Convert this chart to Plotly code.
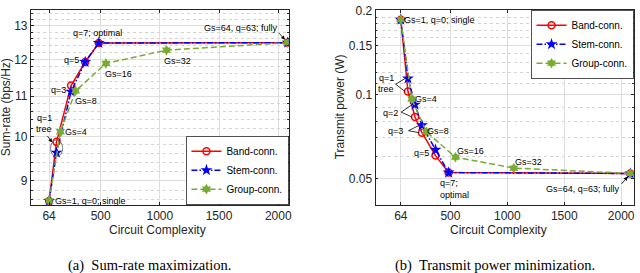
import math
import plotly.graph_objects as go

W, H = 640, 273
SANS = "Liberation Sans"
SERIF = "Liberation Serif"

# ---------------- data ----------------
# (a) sum-rate maximization
cc_bs_a = [64, 127, 250, 369, 484, 2080]          # band / stem complexity, q = 0,1,3,5,7,63
rate_band = [8.58, 9.87, 11.28, 11.93, 12.48, 12.49]
rate_stem = [8.58, 9.62, 11.12, 11.93, 12.48, 12.49]
cc_group = [64, 160, 288, 544, 1056, 2080]       # Gs = 1,4,8,16,32,64
rate_group = [8.58, 10.11, 11.14, 11.89, 12.27, 12.49]

# (b) transmit power minimization
cc_bs_b = [64, 127, 189, 250, 369, 484, 2080]     # q = 0,1,2,3,5,7,63
pow_band = [0.186, 0.1026, 0.0831, 0.0730, 0.0604, 0.0525, 0.0521]
pow_stem = [0.186, 0.1143, 0.0921, 0.0776, 0.0634, 0.0525, 0.0521]
pow_group = [0.186, 0.0964, 0.0736, 0.0596, 0.0545, 0.0521]

x_ticks = [64, 500, 1000, 1500, 2000]
rate_ticks = [9, 10, 11, 12, 13]
pow_ticks = [0.05, 0.1, 0.15, 0.2]
pow_tick_text = ["0.05", "0.1", "0.15", "0.2"]

RED, BLUE, GREEN = "#FF0000", "#0000FF", "#77AC30"


def series(x, y, kind, xa, ya, leg, show):
    if kind == "band":
        line = dict(color=RED, width=1.5)
        marker = dict(symbol="circle-open", size=7, color=RED, line=dict(width=1.5, color=RED))
        name = "Band-conn."
    elif kind == "stem":
        line = dict(color=BLUE, width=1.5, dash="6px,2px,1.5px,2px")
        marker = dict(symbol="star", size=9, color=BLUE, line=dict(width=0))
        name = "Stem-conn."
    else:
        line = dict(color=GREEN, width=1.5, dash="6px,3px")
        marker = dict(symbol="hexagram", size=8, color=GREEN, line=dict(width=0))
        name = "Group-conn."
    return go.Scatter(x=x, y=y, mode="lines+markers", line=line, marker=marker,
                      name=name, xaxis=xa, yaxis=ya, legend=leg, showlegend=show,
                      hoverinfo="skip")


fig = go.Figure()
fig.add_trace(series(cc_bs_a, rate_band, "band", "x", "y", "legend", True))
fig.add_trace(series(cc_bs_a, rate_stem, "stem", "x", "y", "legend", True))
fig.add_trace(series(cc_group, rate_group, "group", "x", "y", "legend", True))
fig.add_trace(series(cc_bs_b, pow_band, "band", "x2", "y2", "legend2", True))
fig.add_trace(series(cc_bs_b, pow_stem, "stem", "x2", "y2", "legend2", True))
fig.add_trace(series(cc_group, pow_group, "group", "x2", "y2", "legend2", True))

AXC = "#262626"
GRID = "#dedede"
MINGRID = "#d4d4d4"
TICKSZ = 12


def xaxis(domain, rng, anchor):
    return dict(domain=domain, range=rng, tickvals=x_ticks, anchor=anchor,
                showgrid=True, gridcolor=GRID, gridwidth=1, zeroline=False,
                showline=True, linecolor=AXC, linewidth=0.8, mirror="ticks",
                ticks="inside", ticklen=3, tickcolor=AXC, tickwidth=0.8,
                ticklabeloverflow="allow",
                tickfont=dict(family=SANS, size=TICKSZ, color=AXC))


def yaxis(domain, rng, anchor, tv, tt, minor_vals):
    return dict(domain=domain, type="log", range=rng, tickvals=tv, ticktext=tt,
                anchor=anchor, showgrid=True, gridcolor=GRID, gridwidth=1,
                zeroline=False, showline=True, linecolor=AXC, linewidth=0.8,
                mirror="ticks", ticks="inside", ticklen=3, tickcolor=AXC,
                tickwidth=0.8, ticklabeloverflow="allow",
                tickfont=dict(family=SANS, size=TICKSZ, color=AXC),
                minor=dict(tickmode="array", tickvals=minor_vals, showgrid=True,
                           gridcolor=MINGRID, griddash="dot", gridwidth=1,
                           ticks="inside", ticklen=2, tickcolor=AXC))


minor_rate = [round(8.6 + 0.2 * i, 1) for i in range(25)]
minor_rate = [v for v in minor_rate if abs(v - round(v)) > 1e-6]
minor_pow = [round(0.04 + 0.01 * i, 2) for i in range(17)]
minor_pow = [v for v in minor_pow if abs(v / 0.05 - round(v / 0.05)) > 1e-6]

ydom = [1 - 203.3 / H, 1 - 4 / H]
POW_LO, POW_HI = 0.0402, 0.2016
fig.update_layout(
    xaxis=xaxis([31 / W, 290 / W], [-90, 2088], "y"),
    yaxis=yaxis(ydom, [math.log10(8.5), math.log10(13.5)], "x",
                rate_ticks, [str(v) for v in rate_ticks], minor_rate),
    xaxis2=xaxis([377.3 / W, 636.7 / W], [-158, 2110], "y2"),
    yaxis2=yaxis(ydom, [math.log10(POW_LO), math.log10(POW_HI)], "x2",
                 pow_ticks, pow_tick_text, minor_pow),
)

leg_common = dict(bgcolor="white", bordercolor=AXC, borderwidth=0.8,
                  font=dict(family=SANS, size=10, color="black"),
                  itemwidth=30, tracegroupgap=0)
fig.update_layout(
    legend=dict(x=290 / W, y=1 - 203.3 / H, xanchor="right", yanchor="bottom", **leg_common),
    legend2=dict(x=636.7 / W, y=1 - 4 / H, xanchor="right", yanchor="top", **leg_common),
)


def txt(s, px, py, size=9, family=SANS, color="black", **kw):
    d = dict(text=s, x=px / W, y=1 - py / H, xref="paper", yref="paper",
             showarrow=False, font=dict(family=family, size=size, color=color),
             xanchor="center", yanchor="middle")
    d.update(kw)
    return d


ann = []
# axis titles
ann.append(txt("Sum-rate (bps/Hz)", 6, 103.5, size=12, color=AXC, textangle=-90))
ann.append(txt("Transmit power (W)", 341.7, 103.5, size=12, color=AXC, textangle=-90))
ann.append(txt("Circuit Complexity", 158.3, 229, size=12, color=AXC))
ann.append(txt("Circuit Complexity", 501, 229, size=12, color=AXC))
# captions
ann.append(txt("(a)  Sum-rate maximization.", 150.5, 265, size=14.5, family=SERIF))
ann.append(txt("(b)  Transmit power minimization.", 497.5, 265, size=14.5, family=SERIF))

# panel (a) labels
ann += [
    txt("q=7; optimal", 98.3, 27.3),
    txt("q=5", 71.7, 55.7),
    txt("q=3", 58.3, 85.7),
    txt("Gs=8", 86.3, 97.3),
    txt("Gs=16", 118.7, 69.3),
    txt("Gs=32", 178.7, 56.7),
    txt("Gs=64, q=63; fully", 242, 22.7),
    txt("q=1", 44.3, 115),
    txt("tree", 44.3, 126),
    txt("Gs=4", 76.7, 129.3),
    txt("Gs=1, q=0; single", 91.3, 199),
]
# panel (b) labels
ann += [
    txt("Gs=1, q=0; single", 441.7, 14),
    txt("q=1", 388.3, 74),
    txt("tree", 388.3, 85.3),
    txt("Gs=4", 428.3, 95),
    txt("q=2", 392.3, 109.3),
    txt("q=3", 397.8, 128.3),
    txt("Gs=8", 440.3, 128.3),
    txt("q=5", 423.7, 150),
    txt("Gs=16", 472.8, 148.3),
    txt("Gs=32", 530.7, 159.3),
    txt("q=7;<br>optimal", 440, 187, xanchor="left", align="left"),
    txt("Gs=64, q=63; fully", 585.5, 187.3),
]

# arrows
arrow = dict(text="", showarrow=True, arrowhead=2, arrowsize=1, arrowwidth=0.8,
             arrowcolor="black", axref="pixel", ayref="pixel")
ann.append(dict(x=cc_bs_a[-1], y=math.log10(rate_band[-1]), xref="x", yref="y",
                ax=-10, ay=-11, standoff=4, **arrow))
ann.append(dict(x=cc_bs_b[-1], y=math.log10(pow_band[-1]), xref="x2", yref="y2",
                ax=-10, ay=12, standoff=4, **arrow))
ann.append(dict(x=52.5 / W, y=1 - 139.5 / H, xref="paper", yref="paper",
                ax=-6, ay=-8, standoff=0, **arrow))
fig.update_layout(annotations=ann)

# shapes: ellipse around q=1 points in (a), "<" leaders in (b)
shapes = [dict(type="circle", xref="x", yref="y", x0=76, x1=179, y0=9.53, y1=9.915,
               line=dict(color="#606060", width=0.8))]


def leader(vx_px, vy_px, i):
    vx = -158 + (vx_px - 377.3) / (636.7 - 377.3) * (2110 + 158)
    lo, hi = math.log10(POW_LO), math.log10(POW_HI)
    vy = 10 ** (hi - (vy_px - 4) / (203.3 - 4) * (hi - lo))
    out = []
    for yv in (pow_stem[i], pow_band[i]):
        out.append(dict(type="line", xref="x2", yref="y2", x0=vx, y0=vy,
                        x1=cc_bs_b[i] - 25, y1=yv, line=dict(color="black", width=0.8)))
    return out


shapes += leader(397.5, 80, 1)
shapes += leader(403, 108.5, 2)
shapes += leader(410.5, 127.5, 3)
fig.update_layout(shapes=shapes)

fig.update_layout(width=W, height=H, autosize=False,
                  margin=dict(l=0, r=0, t=0, b=0),
                  paper_bgcolor="white", plot_bgcolor="white",
                  font=dict(family=SANS))
fig.write_html("out.html", config={"displayModeBar": False},
               post_script="document.body.style.margin='0px';"
                           "document.body.style.overflow='hidden';")
